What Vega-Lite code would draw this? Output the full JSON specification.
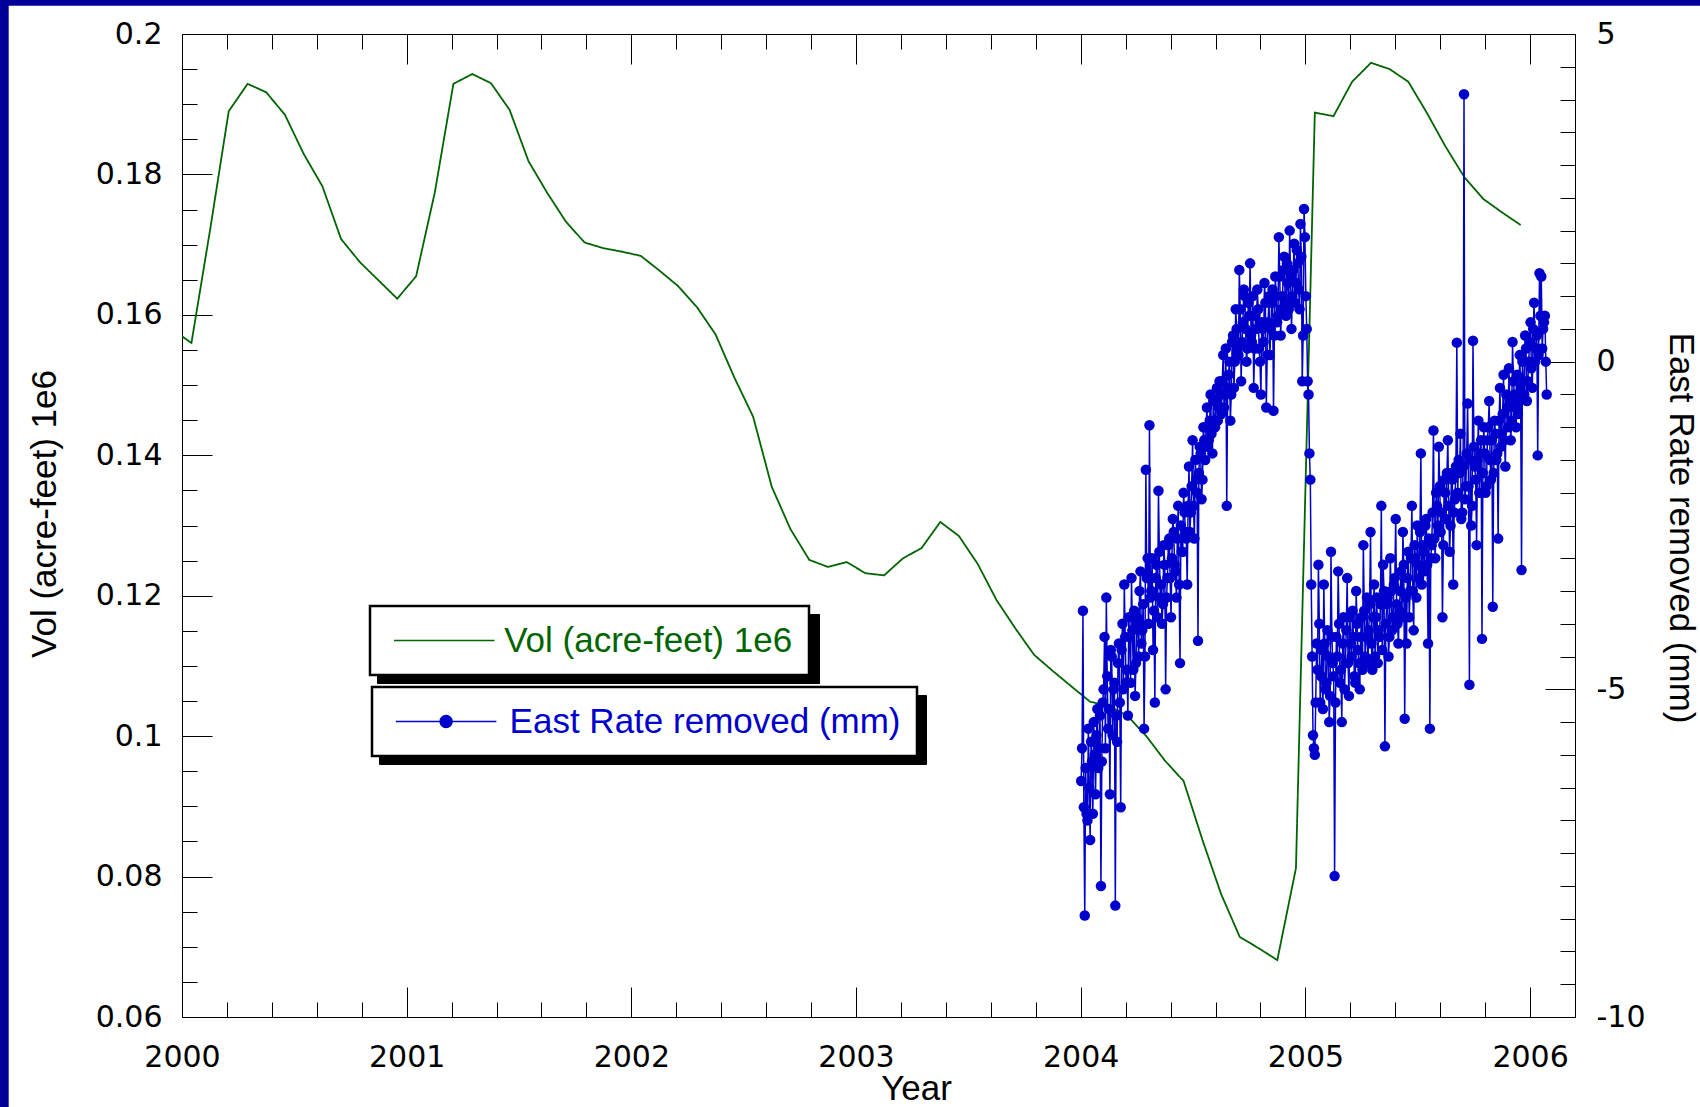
{
  "$schema": "https://vega.github.io/schema/vega-lite/v6.json",
  "width": 1393,
  "height": 983,
  "autosize": {"type": "none"},
  "padding": {"left": 182, "top": 34, "right": 125, "bottom": 90},
  "background": "white",
  "config": {
    "view": {"stroke": null},
    "axis": {
      "domainColor": "#000000",
      "domainWidth": 1,
      "tickColor": "#000000",
      "tickWidth": 1,
      "grid": false,
      "labelFont": "DejaVu Sans",
      "labelFontSize": 30,
      "labelColor": "#000000",
      "labelFlush": false,
      "labelOverlap": false,
      "labelBound": false,
      "titleFont": "Liberation Sans",
      "titleFontSize": 35,
      "titleFontWeight": "normal",
      "titleColor": "#000000",
      "zindex": 1
    },
    "legend": {
      "labelFont": "Liberation Sans",
      "labelFontSize": 35,
      "labelLimit": 900,
      "symbolSize": 1225,
      "symbolStrokeWidth": 1.5,
      "padding": 16
    }
  },
  "datasets": {
    "volume": [
      {"t": 1999.958, "vol": 0.1579}, {"t": 2000.042, "vol": 0.1560}, {"t": 2000.125, "vol": 0.1721},
      {"t": 2000.208, "vol": 0.1890}, {"t": 2000.292, "vol": 0.1929}, {"t": 2000.375, "vol": 0.1917},
      {"t": 2000.458, "vol": 0.1885}, {"t": 2000.542, "vol": 0.1829}, {"t": 2000.625, "vol": 0.1783},
      {"t": 2000.708, "vol": 0.1708}, {"t": 2000.792, "vol": 0.1675}, {"t": 2000.875, "vol": 0.1649},
      {"t": 2000.958, "vol": 0.1623}, {"t": 2001.042, "vol": 0.1655}, {"t": 2001.125, "vol": 0.1774},
      {"t": 2001.208, "vol": 0.1929}, {"t": 2001.292, "vol": 0.1943}, {"t": 2001.375, "vol": 0.1930},
      {"t": 2001.458, "vol": 0.1892}, {"t": 2001.542, "vol": 0.1819}, {"t": 2001.625, "vol": 0.1774},
      {"t": 2001.708, "vol": 0.1733}, {"t": 2001.792, "vol": 0.1703}, {"t": 2001.875, "vol": 0.1695},
      {"t": 2001.958, "vol": 0.1690}, {"t": 2002.042, "vol": 0.1684}, {"t": 2002.125, "vol": 0.1663},
      {"t": 2002.208, "vol": 0.1641}, {"t": 2002.292, "vol": 0.1611}, {"t": 2002.375, "vol": 0.1572},
      {"t": 2002.458, "vol": 0.1511}, {"t": 2002.542, "vol": 0.1455}, {"t": 2002.625, "vol": 0.1355},
      {"t": 2002.708, "vol": 0.1295}, {"t": 2002.792, "vol": 0.1251}, {"t": 2002.875, "vol": 0.1241},
      {"t": 2002.958, "vol": 0.1248}, {"t": 2003.042, "vol": 0.1232}, {"t": 2003.125, "vol": 0.1229},
      {"t": 2003.208, "vol": 0.1253}, {"t": 2003.292, "vol": 0.1268}, {"t": 2003.375, "vol": 0.1305},
      {"t": 2003.458, "vol": 0.1285}, {"t": 2003.542, "vol": 0.1245}, {"t": 2003.625, "vol": 0.1194},
      {"t": 2003.708, "vol": 0.1154}, {"t": 2003.792, "vol": 0.1116}, {"t": 2003.875, "vol": 0.1093},
      {"t": 2003.958, "vol": 0.1071}, {"t": 2004.042, "vol": 0.1049}, {"t": 2004.125, "vol": 0.1043},
      {"t": 2004.208, "vol": 0.1029}, {"t": 2004.292, "vol": 0.1000}, {"t": 2004.375, "vol": 0.0965},
      {"t": 2004.458, "vol": 0.0936}, {"t": 2004.542, "vol": 0.0852}, {"t": 2004.625, "vol": 0.0775},
      {"t": 2004.708, "vol": 0.0714}, {"t": 2004.792, "vol": 0.0698}, {"t": 2004.875, "vol": 0.0681},
      {"t": 2004.958, "vol": 0.0812}, {"t": 2005.042, "vol": 0.1888}, {"t": 2005.125, "vol": 0.1883},
      {"t": 2005.208, "vol": 0.1932}, {"t": 2005.292, "vol": 0.1959}, {"t": 2005.375, "vol": 0.1950},
      {"t": 2005.458, "vol": 0.1932}, {"t": 2005.542, "vol": 0.1887}, {"t": 2005.625, "vol": 0.1839},
      {"t": 2005.708, "vol": 0.1796}, {"t": 2005.792, "vol": 0.1765}, {"t": 2005.875, "vol": 0.1746},
      {"t": 2005.958, "vol": 0.1728}
    ],
    "east": [
      {"t": 2004.002, "v": -6.4}, {"t": 2004.010, "v": -3.8}, {"t": 2004.018, "v": -8.45}, {"t": 2004.026, "v": -6.9},
      {"t": 2004.034, "v": -5.6}, {"t": 2004.042, "v": -7.3}, {"t": 2004.050, "v": -6.1}, {"t": 2004.058, "v": -5.5},
      {"t": 2004.066, "v": -6.6}, {"t": 2004.074, "v": -5.3}, {"t": 2004.082, "v": -5.9}, {"t": 2004.090, "v": -8.0},
      {"t": 2004.098, "v": -5.2}, {"t": 2004.106, "v": -4.2}, {"t": 2004.114, "v": -3.6}, {"t": 2004.122, "v": -5.6},
      {"t": 2004.130, "v": -6.6}, {"t": 2004.138, "v": -4.5}, {"t": 2004.146, "v": -5.0}, {"t": 2004.154, "v": -8.3},
      {"t": 2004.162, "v": -5.8}, {"t": 2004.170, "v": -4.3}, {"t": 2004.178, "v": -6.8}, {"t": 2004.186, "v": -4.0},
      {"t": 2004.194, "v": -3.4}, {"t": 2004.202, "v": -4.9}, {"t": 2004.210, "v": -5.4}, {"t": 2004.218, "v": -4.2},
      {"t": 2004.226, "v": -3.3}, {"t": 2004.234, "v": -4.7}, {"t": 2004.242, "v": -5.1}, {"t": 2004.250, "v": -3.9},
      {"t": 2004.258, "v": -4.5}, {"t": 2004.266, "v": -3.2}, {"t": 2004.274, "v": -4.1}, {"t": 2004.282, "v": -5.6},
      {"t": 2004.290, "v": -1.65}, {"t": 2004.298, "v": -3.0}, {"t": 2004.306, "v": -0.97}, {"t": 2004.314, "v": -3.5},
      {"t": 2004.322, "v": -4.4}, {"t": 2004.330, "v": -5.2}, {"t": 2004.338, "v": -3.1}, {"t": 2004.346, "v": -1.97},
      {"t": 2004.354, "v": -3.6}, {"t": 2004.362, "v": -4.0}, {"t": 2004.370, "v": -2.8}, {"t": 2004.378, "v": -5.0},
      {"t": 2004.386, "v": -3.3}, {"t": 2004.394, "v": -2.7}, {"t": 2004.402, "v": -3.9}, {"t": 2004.410, "v": -2.4},
      {"t": 2004.418, "v": -3.1}, {"t": 2004.426, "v": -3.6}, {"t": 2004.434, "v": -2.2}, {"t": 2004.442, "v": -4.6},
      {"t": 2004.450, "v": -2.9}, {"t": 2004.458, "v": -2.0}, {"t": 2004.466, "v": -2.6}, {"t": 2004.474, "v": -3.4},
      {"t": 2004.482, "v": -1.6}, {"t": 2004.490, "v": -2.3}, {"t": 2004.498, "v": -1.2}, {"t": 2004.506, "v": -2.7},
      {"t": 2004.514, "v": -1.8}, {"t": 2004.522, "v": -4.26}, {"t": 2004.530, "v": -1.3}, {"t": 2004.538, "v": -2.1},
      {"t": 2004.546, "v": -1.0}, {"t": 2004.554, "v": -1.5}, {"t": 2004.562, "v": -0.7}, {"t": 2004.570, "v": -1.2},
      {"t": 2004.578, "v": -0.5}, {"t": 2004.586, "v": -1.4}, {"t": 2004.594, "v": -0.9}, {"t": 2004.602, "v": -0.6},
      {"t": 2004.610, "v": -0.9}, {"t": 2004.618, "v": -0.3}, {"t": 2004.626, "v": -0.8}, {"t": 2004.634, "v": 0.1},
      {"t": 2004.642, "v": -0.5}, {"t": 2004.650, "v": -2.2}, {"t": 2004.658, "v": -0.2}, {"t": 2004.666, "v": -0.9},
      {"t": 2004.674, "v": 0.3}, {"t": 2004.682, "v": -0.4}, {"t": 2004.690, "v": 0.8}, {"t": 2004.698, "v": 0.2},
      {"t": 2004.706, "v": 1.4}, {"t": 2004.714, "v": -0.3}, {"t": 2004.722, "v": 0.6}, {"t": 2004.730, "v": 1.0},
      {"t": 2004.738, "v": 0.0}, {"t": 2004.746, "v": 0.9}, {"t": 2004.754, "v": 1.5}, {"t": 2004.762, "v": 0.3},
      {"t": 2004.770, "v": -0.4}, {"t": 2004.778, "v": 0.7}, {"t": 2004.786, "v": 1.1}, {"t": 2004.794, "v": 0.2},
      {"t": 2004.802, "v": -0.5}, {"t": 2004.810, "v": 0.5}, {"t": 2004.818, "v": 1.2}, {"t": 2004.826, "v": -0.7},
      {"t": 2004.834, "v": 0.6}, {"t": 2004.842, "v": 0.1}, {"t": 2004.850, "v": 0.9}, {"t": 2004.858, "v": -0.75},
      {"t": 2004.866, "v": 1.3}, {"t": 2004.874, "v": 0.6}, {"t": 2004.882, "v": 1.9}, {"t": 2004.890, "v": 0.4},
      {"t": 2004.898, "v": 1.0}, {"t": 2004.906, "v": 1.6}, {"t": 2004.914, "v": 0.7}, {"t": 2004.922, "v": 1.2},
      {"t": 2004.930, "v": 2.0}, {"t": 2004.938, "v": 0.5}, {"t": 2004.946, "v": 1.4}, {"t": 2004.954, "v": 0.9},
      {"t": 2004.962, "v": 1.7}, {"t": 2004.970, "v": 1.1}, {"t": 2004.978, "v": 2.1}, {"t": 2004.986, "v": -0.3},
      {"t": 2004.994, "v": 2.33}, {"t": 2005.002, "v": 1.0}, {"t": 2005.010, "v": -0.3}, {"t": 2005.018, "v": -1.4},
      {"t": 2005.026, "v": -3.4}, {"t": 2005.034, "v": -5.7}, {"t": 2005.042, "v": -6.0}, {"t": 2005.050, "v": -4.3},
      {"t": 2005.058, "v": -3.1}, {"t": 2005.066, "v": -5.2}, {"t": 2005.074, "v": -4.4}, {"t": 2005.082, "v": -3.4},
      {"t": 2005.090, "v": -5.0}, {"t": 2005.098, "v": -4.1}, {"t": 2005.106, "v": -5.5}, {"t": 2005.114, "v": -2.9},
      {"t": 2005.122, "v": -4.6}, {"t": 2005.130, "v": -7.85}, {"t": 2005.138, "v": -4.2}, {"t": 2005.146, "v": -3.2},
      {"t": 2005.154, "v": -4.9}, {"t": 2005.162, "v": -5.5}, {"t": 2005.170, "v": -3.9}, {"t": 2005.178, "v": -4.6},
      {"t": 2005.186, "v": -3.3}, {"t": 2005.194, "v": -5.1}, {"t": 2005.202, "v": -4.3}, {"t": 2005.210, "v": -3.8},
      {"t": 2005.218, "v": -4.8}, {"t": 2005.226, "v": -3.5}, {"t": 2005.234, "v": -4.4}, {"t": 2005.242, "v": -5.0},
      {"t": 2005.250, "v": -3.9}, {"t": 2005.258, "v": -2.8}, {"t": 2005.266, "v": -4.5}, {"t": 2005.274, "v": -3.6},
      {"t": 2005.282, "v": -4.1}, {"t": 2005.290, "v": -2.6}, {"t": 2005.298, "v": -4.7}, {"t": 2005.306, "v": -3.4},
      {"t": 2005.314, "v": -3.9}, {"t": 2005.322, "v": -4.6}, {"t": 2005.330, "v": -4.2}, {"t": 2005.338, "v": -2.2},
      {"t": 2005.346, "v": -3.1}, {"t": 2005.354, "v": -5.87}, {"t": 2005.362, "v": -3.7}, {"t": 2005.370, "v": -4.5},
      {"t": 2005.378, "v": -3.0}, {"t": 2005.386, "v": -4.1}, {"t": 2005.394, "v": -3.4}, {"t": 2005.402, "v": -2.4},
      {"t": 2005.410, "v": -4.0}, {"t": 2005.418, "v": -3.8}, {"t": 2005.426, "v": -3.2}, {"t": 2005.434, "v": -2.6},
      {"t": 2005.442, "v": -5.45}, {"t": 2005.450, "v": -4.3}, {"t": 2005.458, "v": -2.9}, {"t": 2005.466, "v": -3.5},
      {"t": 2005.474, "v": -2.2}, {"t": 2005.482, "v": -4.1}, {"t": 2005.490, "v": -3.0}, {"t": 2005.498, "v": -2.5},
      {"t": 2005.506, "v": -3.3}, {"t": 2005.514, "v": -1.4}, {"t": 2005.522, "v": -2.8}, {"t": 2005.530, "v": -3.2},
      {"t": 2005.538, "v": -2.4}, {"t": 2005.546, "v": -4.3}, {"t": 2005.554, "v": -5.6}, {"t": 2005.562, "v": -2.8},
      {"t": 2005.570, "v": -1.05}, {"t": 2005.578, "v": -3.0}, {"t": 2005.586, "v": -2.2}, {"t": 2005.594, "v": -1.3},
      {"t": 2005.602, "v": -2.6}, {"t": 2005.610, "v": -3.9}, {"t": 2005.618, "v": -1.8}, {"t": 2005.626, "v": -2.4},
      {"t": 2005.634, "v": -1.2}, {"t": 2005.642, "v": -2.9}, {"t": 2005.650, "v": -1.7}, {"t": 2005.658, "v": -3.4},
      {"t": 2005.666, "v": -2.1}, {"t": 2005.674, "v": 0.29}, {"t": 2005.682, "v": -1.5}, {"t": 2005.690, "v": -1.1},
      {"t": 2005.698, "v": -2.3}, {"t": 2005.706, "v": 4.08}, {"t": 2005.714, "v": -1.9}, {"t": 2005.722, "v": -0.64},
      {"t": 2005.730, "v": -4.93}, {"t": 2005.738, "v": -2.5}, {"t": 2005.746, "v": 0.32}, {"t": 2005.754, "v": -1.6},
      {"t": 2005.762, "v": -2.8}, {"t": 2005.770, "v": -0.9}, {"t": 2005.778, "v": -1.4}, {"t": 2005.786, "v": -4.23},
      {"t": 2005.794, "v": -1.0}, {"t": 2005.802, "v": -2.0}, {"t": 2005.810, "v": -1.2}, {"t": 2005.818, "v": -0.6},
      {"t": 2005.826, "v": -1.8}, {"t": 2005.834, "v": -3.74}, {"t": 2005.842, "v": -0.9}, {"t": 2005.850, "v": -1.5},
      {"t": 2005.858, "v": -2.7}, {"t": 2005.866, "v": -0.4}, {"t": 2005.874, "v": -1.1}, {"t": 2005.882, "v": -0.2},
      {"t": 2005.890, "v": -1.6}, {"t": 2005.898, "v": -0.7}, {"t": 2005.906, "v": -0.1}, {"t": 2005.914, "v": -1.2},
      {"t": 2005.922, "v": 0.3}, {"t": 2005.930, "v": -0.5}, {"t": 2005.938, "v": -1.0}, {"t": 2005.946, "v": -0.8},
      {"t": 2005.954, "v": 0.1}, {"t": 2005.962, "v": -3.18}, {"t": 2005.970, "v": -0.3}, {"t": 2005.978, "v": 0.4},
      {"t": 2005.986, "v": -0.6}, {"t": 2005.994, "v": 0.0}, {"t": 2006.002, "v": 0.6}, {"t": 2006.010, "v": -0.4},
      {"t": 2006.018, "v": 0.9}, {"t": 2006.026, "v": 0.2}, {"t": 2006.034, "v": -1.43}, {"t": 2006.042, "v": 1.35},
      {"t": 2006.050, "v": 1.3}, {"t": 2006.058, "v": 0.5}, {"t": 2006.066, "v": 0.7}, {"t": 2006.074, "v": -0.5},
      {"t": 2004.006, "v": -5.9}, {"t": 2004.014, "v": -6.8}, {"t": 2004.022, "v": -6.2}, {"t": 2004.030, "v": -7.0},
      {"t": 2004.038, "v": -6.5}, {"t": 2004.046, "v": -5.8}, {"t": 2004.054, "v": -6.9}, {"t": 2004.062, "v": -6.0},
      {"t": 2004.070, "v": -5.7}, {"t": 2004.078, "v": -6.2}, {"t": 2004.086, "v": -5.4}, {"t": 2004.094, "v": -6.1},
      {"t": 2004.102, "v": -5.0}, {"t": 2004.110, "v": -5.9}, {"t": 2004.118, "v": -4.8}, {"t": 2004.126, "v": -5.3},
      {"t": 2004.134, "v": -4.4}, {"t": 2004.142, "v": -5.7}, {"t": 2004.150, "v": -4.9}, {"t": 2004.158, "v": -5.4},
      {"t": 2004.166, "v": -4.6}, {"t": 2004.174, "v": -5.2}, {"t": 2004.182, "v": -4.4}, {"t": 2004.190, "v": -5.0},
      {"t": 2004.198, "v": -4.2}, {"t": 2004.206, "v": -4.7}, {"t": 2004.214, "v": -3.9}, {"t": 2004.222, "v": -4.9},
      {"t": 2004.230, "v": -4.1}, {"t": 2004.238, "v": -3.8}, {"t": 2004.246, "v": -4.6}, {"t": 2004.254, "v": -4.0},
      {"t": 2004.262, "v": -3.5}, {"t": 2004.270, "v": -4.3}, {"t": 2004.278, "v": -3.7}, {"t": 2004.286, "v": -4.5},
      {"t": 2004.294, "v": -3.3}, {"t": 2004.302, "v": -4.0}, {"t": 2004.310, "v": -3.6}, {"t": 2004.318, "v": -3.0},
      {"t": 2004.326, "v": -3.8}, {"t": 2004.334, "v": -3.3}, {"t": 2004.342, "v": -3.9}, {"t": 2004.350, "v": -2.9},
      {"t": 2004.358, "v": -3.4}, {"t": 2004.366, "v": -3.7}, {"t": 2004.374, "v": -3.1}, {"t": 2004.382, "v": -3.6},
      {"t": 2004.390, "v": -2.8}, {"t": 2004.398, "v": -3.3}, {"t": 2004.406, "v": -3.0}, {"t": 2004.414, "v": -2.6},
      {"t": 2004.422, "v": -3.2}, {"t": 2004.430, "v": -2.7}, {"t": 2004.438, "v": -3.4}, {"t": 2004.446, "v": -2.5},
      {"t": 2004.454, "v": -2.9}, {"t": 2004.462, "v": -2.3}, {"t": 2004.470, "v": -2.7}, {"t": 2004.478, "v": -2.2},
      {"t": 2004.486, "v": -2.6}, {"t": 2004.494, "v": -1.9}, {"t": 2004.502, "v": -2.2}, {"t": 2004.510, "v": -1.5},
      {"t": 2004.518, "v": -2.0}, {"t": 2004.526, "v": -1.7}, {"t": 2004.534, "v": -1.4}, {"t": 2004.542, "v": -1.8},
      {"t": 2004.550, "v": -1.2}, {"t": 2004.558, "v": -1.0}, {"t": 2004.566, "v": -1.3}, {"t": 2004.574, "v": -0.9},
      {"t": 2004.582, "v": -1.1}, {"t": 2004.590, "v": -0.6}, {"t": 2004.598, "v": -1.0}, {"t": 2004.606, "v": -0.4},
      {"t": 2004.614, "v": -0.7}, {"t": 2004.622, "v": -0.5}, {"t": 2004.630, "v": -0.3}, {"t": 2004.638, "v": -0.7},
      {"t": 2004.646, "v": 0.2}, {"t": 2004.654, "v": -0.4}, {"t": 2004.662, "v": 0.0}, {"t": 2004.670, "v": -0.5},
      {"t": 2004.678, "v": 0.4}, {"t": 2004.686, "v": 0.0}, {"t": 2004.694, "v": 0.5}, {"t": 2004.702, "v": 0.1},
      {"t": 2004.710, "v": 0.8}, {"t": 2004.718, "v": 0.3}, {"t": 2004.726, "v": 1.1}, {"t": 2004.734, "v": 0.5},
      {"t": 2004.742, "v": 0.2}, {"t": 2004.750, "v": 0.7}, {"t": 2004.758, "v": 0.4}, {"t": 2004.766, "v": 1.0},
      {"t": 2004.774, "v": 0.2}, {"t": 2004.782, "v": 0.5}, {"t": 2004.790, "v": 0.8}, {"t": 2004.798, "v": 0.0},
      {"t": 2004.806, "v": 0.6}, {"t": 2004.814, "v": 0.3}, {"t": 2004.822, "v": 0.9}, {"t": 2004.830, "v": 0.1},
      {"t": 2004.838, "v": 1.0}, {"t": 2004.846, "v": 0.5}, {"t": 2004.854, "v": 1.1}, {"t": 2004.862, "v": 0.4},
      {"t": 2004.870, "v": 1.0}, {"t": 2004.878, "v": 0.7}, {"t": 2004.886, "v": 1.3}, {"t": 2004.894, "v": 0.8},
      {"t": 2004.902, "v": 1.4}, {"t": 2004.910, "v": 0.9}, {"t": 2004.918, "v": 1.5}, {"t": 2004.926, "v": 0.8},
      {"t": 2004.934, "v": 1.3}, {"t": 2004.942, "v": 1.0}, {"t": 2004.950, "v": 1.8}, {"t": 2004.958, "v": 1.2},
      {"t": 2004.966, "v": 1.5}, {"t": 2004.974, "v": 0.8}, {"t": 2004.982, "v": 1.6}, {"t": 2004.990, "v": 0.4},
      {"t": 2004.998, "v": 1.9}, {"t": 2005.006, "v": 0.5}, {"t": 2005.014, "v": -0.5}, {"t": 2005.022, "v": -1.8},
      {"t": 2005.030, "v": -4.5}, {"t": 2005.038, "v": -5.9}, {"t": 2005.046, "v": -5.2}, {"t": 2005.054, "v": -4.7},
      {"t": 2005.062, "v": -4.0}, {"t": 2005.070, "v": -4.8}, {"t": 2005.078, "v": -5.3}, {"t": 2005.086, "v": -4.3},
      {"t": 2005.094, "v": -4.9}, {"t": 2005.102, "v": -4.5}, {"t": 2005.110, "v": -5.1}, {"t": 2005.118, "v": -4.2},
      {"t": 2005.126, "v": -4.8}, {"t": 2005.134, "v": -5.2}, {"t": 2005.142, "v": -4.5}, {"t": 2005.150, "v": -4.0},
      {"t": 2005.158, "v": -4.7}, {"t": 2005.166, "v": -4.3}, {"t": 2005.174, "v": -5.0}, {"t": 2005.182, "v": -4.1},
      {"t": 2005.190, "v": -4.6}, {"t": 2005.198, "v": -3.9}, {"t": 2005.206, "v": -4.5}, {"t": 2005.214, "v": -4.2},
      {"t": 2005.222, "v": -4.9}, {"t": 2005.230, "v": -4.0}, {"t": 2005.238, "v": -4.6}, {"t": 2005.246, "v": -4.2},
      {"t": 2005.254, "v": -4.7}, {"t": 2005.262, "v": -3.8}, {"t": 2005.270, "v": -4.2}, {"t": 2005.278, "v": -4.6},
      {"t": 2005.286, "v": -3.7}, {"t": 2005.294, "v": -4.3}, {"t": 2005.302, "v": -3.9}, {"t": 2005.310, "v": -4.5},
      {"t": 2005.318, "v": -3.6}, {"t": 2005.326, "v": -4.1}, {"t": 2005.334, "v": -3.7}, {"t": 2005.342, "v": -4.4},
      {"t": 2005.350, "v": -3.5}, {"t": 2005.358, "v": -4.0}, {"t": 2005.366, "v": -3.6}, {"t": 2005.374, "v": -4.2},
      {"t": 2005.382, "v": -3.5}, {"t": 2005.390, "v": -3.9}, {"t": 2005.398, "v": -3.3}, {"t": 2005.406, "v": -3.7},
      {"t": 2005.414, "v": -4.3}, {"t": 2005.422, "v": -3.5}, {"t": 2005.430, "v": -3.9}, {"t": 2005.438, "v": -3.1},
      {"t": 2005.446, "v": -3.6}, {"t": 2005.454, "v": -3.3}, {"t": 2005.462, "v": -3.9}, {"t": 2005.470, "v": -3.0},
      {"t": 2005.478, "v": -3.5}, {"t": 2005.486, "v": -2.8}, {"t": 2005.494, "v": -3.6}, {"t": 2005.502, "v": -3.1},
      {"t": 2005.510, "v": -2.6}, {"t": 2005.518, "v": -3.4}, {"t": 2005.526, "v": -2.9}, {"t": 2005.534, "v": -2.5},
      {"t": 2005.542, "v": -3.1}, {"t": 2005.550, "v": -2.7}, {"t": 2005.558, "v": -3.0}, {"t": 2005.566, "v": -2.3},
      {"t": 2005.574, "v": -2.7}, {"t": 2005.582, "v": -2.0}, {"t": 2005.590, "v": -2.5}, {"t": 2005.598, "v": -1.9},
      {"t": 2005.606, "v": -2.3}, {"t": 2005.614, "v": -2.8}, {"t": 2005.622, "v": -2.0}, {"t": 2005.630, "v": -1.7},
      {"t": 2005.638, "v": -2.2}, {"t": 2005.646, "v": -2.5}, {"t": 2005.654, "v": -1.8}, {"t": 2005.662, "v": -2.3},
      {"t": 2005.670, "v": -1.6}, {"t": 2005.678, "v": -2.0}, {"t": 2005.686, "v": -1.7}, {"t": 2005.694, "v": -2.4},
      {"t": 2005.702, "v": -1.6}, {"t": 2005.710, "v": -2.1}, {"t": 2005.718, "v": -1.4}, {"t": 2005.726, "v": -1.9},
      {"t": 2005.734, "v": -1.5}, {"t": 2005.742, "v": -2.2}, {"t": 2005.750, "v": -1.3}, {"t": 2005.758, "v": -1.8},
      {"t": 2005.766, "v": -1.5}, {"t": 2005.774, "v": -2.0}, {"t": 2005.782, "v": -1.2}, {"t": 2005.790, "v": -1.7},
      {"t": 2005.798, "v": -1.4}, {"t": 2005.806, "v": -1.9}, {"t": 2005.814, "v": -1.0}, {"t": 2005.822, "v": -1.5},
      {"t": 2005.830, "v": -1.2}, {"t": 2005.838, "v": -1.7}, {"t": 2005.846, "v": -1.1}, {"t": 2005.854, "v": -1.4},
      {"t": 2005.862, "v": -0.9}, {"t": 2005.870, "v": -1.3}, {"t": 2005.878, "v": -0.8}, {"t": 2005.886, "v": -1.2},
      {"t": 2005.894, "v": -0.5}, {"t": 2005.902, "v": -1.0}, {"t": 2005.910, "v": -0.6}, {"t": 2005.918, "v": -0.9},
      {"t": 2005.926, "v": -0.3}, {"t": 2005.934, "v": -0.7}, {"t": 2005.942, "v": -0.2}, {"t": 2005.950, "v": -0.6},
      {"t": 2005.958, "v": -0.4}, {"t": 2005.966, "v": 0.0}, {"t": 2005.974, "v": -0.5}, {"t": 2005.982, "v": 0.2},
      {"t": 2005.990, "v": -0.3}, {"t": 2005.998, "v": 0.3}, {"t": 2006.006, "v": -0.1}, {"t": 2006.014, "v": 0.5},
      {"t": 2006.022, "v": 0.0}, {"t": 2006.030, "v": 0.4}, {"t": 2006.038, "v": 0.1}, {"t": 2006.046, "v": 0.7},
      {"t": 2006.054, "v": 0.2}, {"t": 2006.062, "v": 0.6}, {"t": 2006.070, "v": 0.0}
    ]
  },
  "layer": [
    {
      "description": "top band of the page frame",
      "data": {"values": [{}]},
      "mark": {"type": "rect", "color": "#000099"},
      "encoding": {
        "x": {"datum": 1999, "type": "quantitative", "scale": {"domain": [2000, 2006.2], "nice": false, "zero": false}, "axis": null},
        "x2": {"datum": 2007},
        "y": {"datum": 6, "type": "quantitative", "scale": {"domain": [-10, 5], "nice": false, "zero": false}, "axis": null},
        "y2": {"datum": 5.432}
      }
    },
    {
      "description": "left band of the page frame",
      "data": {"values": [{}]},
      "mark": {"type": "rect", "color": "#000099"},
      "encoding": {
        "x": {"datum": 1999, "type": "quantitative", "scale": {"domain": [2000, 2006.2], "nice": false, "zero": false}, "axis": null},
        "x2": {"datum": 1999.2287},
        "y": {"datum": 6, "type": "quantitative", "scale": {"domain": [-10, 5], "nice": false, "zero": false}, "axis": null},
        "y2": {"datum": -12}
      }
    },
    {
      "data": {"name": "volume"},
      "mark": {"type": "line", "strokeWidth": 1.8, "clip": true},
      "encoding": {
        "x": {
          "field": "t", "type": "quantitative",
          "scale": {"domain": [2000, 2006.2], "nice": false, "zero": false},
          "axis": {
            "orient": "bottom",
            "values": [2000, 2000.2, 2000.4, 2000.6, 2000.8, 2001, 2001.2, 2001.4, 2001.6, 2001.8, 2002, 2002.2, 2002.4, 2002.6, 2002.8, 2003, 2003.2, 2003.4, 2003.6, 2003.8, 2004, 2004.2, 2004.4, 2004.6, 2004.8, 2005, 2005.2, 2005.4, 2005.6, 2005.8, 2006, 2006.2],
            "tickSize": {"condition": {"test": "abs(datum.value - round(datum.value)) < 0.01", "value": -30}, "value": -15},
            "labelExpr": "abs(datum.value - round(datum.value)) < 0.01 ? '' + datum.value : ''",
            "labelPadding": 55,
            "title": "Year",
            "titleX": 734,
            "titleY": 82,
            "titleAlign": "center",
            "titleBaseline": "alphabetic"
          }
        },
        "y": {
          "field": "vol", "type": "quantitative",
          "scale": {"domain": [0.06, 0.2], "nice": false, "zero": false},
          "axis": {
            "orient": "left",
            "values": [0.06, 0.065, 0.07, 0.075, 0.08, 0.085, 0.09, 0.095, 0.1, 0.105, 0.11, 0.115, 0.12, 0.125, 0.13, 0.135, 0.14, 0.145, 0.15, 0.155, 0.16, 0.165, 0.17, 0.175, 0.18, 0.185, 0.19, 0.195, 0.2],
            "tickSize": {"condition": {"test": "abs(datum.value * 50 - round(datum.value * 50)) < 0.01", "value": -30}, "value": -15},
            "labelExpr": "abs(datum.value * 50 - round(datum.value * 50)) < 0.01 ? '' + datum.value : ''",
            "labelPadding": 50,
            "title": "Vol (acre-feet) 1e6",
            "titleAngle": -90,
            "titleX": -126.5,
            "titleY": 479.5,
            "titleAlign": "center",
            "titleBaseline": "alphabetic"
          }
        },
        "stroke": {
          "datum": "Vol (acre-feet) 1e6",
          "scale": {"domain": ["Vol (acre-feet) 1e6"], "range": ["#006400"]},
          "legend": {
            "title": null,
            "orient": "none",
            "legendX": 188,
            "legendY": 572,
            "symbolType": "M-2.874,0H2.874",
            "symbolOffset": 39.7,
            "labelOffset": 41.5,
            "labelColor": "#006400",
            "symbolStrokeColor": "#006400",
            "symbolFillColor": "transparent",
            "fillColor": "white",
            "strokeColor": "black",
            "zindex": 2,
            "encode": {"legend": {"update": {"strokeWidth": {"value": 2.5}}}}
          }
        },
        "strokeDash": {
          "datum": "volume shadow",
          "scale": {"domain": ["volume shadow"], "range": [[1, 0]]},
          "legend": {
            "title": null,
            "orient": "none",
            "legendX": 195,
            "legendY": 580,
            "labelExpr": "''",
            "symbolType": "M-2.874,0H19.93",
            "symbolOffset": 39.7,
            "labelOffset": 41.5,
            "symbolStrokeColor": "black",
            "fillColor": "black",
            "strokeColor": "black",
            "zindex": 1
          }
        }
      }
    },
    {
      "data": {"name": "east"},
      "mark": {"type": "line", "strokeWidth": 1.5},
      "encoding": {
        "x": {
          "field": "t", "type": "quantitative",
          "scale": {"domain": [2000, 2006.2], "nice": false, "zero": false},
          "axis": {
            "orient": "top",
            "values": [2000, 2000.2, 2000.4, 2000.6, 2000.8, 2001, 2001.2, 2001.4, 2001.6, 2001.8, 2002, 2002.2, 2002.4, 2002.6, 2002.8, 2003, 2003.2, 2003.4, 2003.6, 2003.8, 2004, 2004.2, 2004.4, 2004.6, 2004.8, 2005, 2005.2, 2005.4, 2005.6, 2005.8, 2006, 2006.2],
            "tickSize": {"condition": {"test": "abs(datum.value - round(datum.value)) < 0.01", "value": -30}, "value": -15},
            "labels": false,
            "title": null
          }
        },
        "y": {
          "field": "v", "type": "quantitative",
          "scale": {"domain": [-10, 5], "nice": false, "zero": false},
          "axis": {
            "orient": "right",
            "values": [-10, -9.5, -9, -8.5, -8, -7.5, -7, -6.5, -6, -5.5, -5, -4.5, -4, -3.5, -3, -2.5, -2, -1.5, -1, -0.5, 0, 0.5, 1, 1.5, 2, 2.5, 3, 3.5, 4, 4.5, 5],
            "tickSize": {"condition": {"test": "abs(datum.value / 5 - round(datum.value / 5)) < 0.01", "value": -30}, "value": -15},
            "labelExpr": "abs(datum.value / 5 - round(datum.value / 5)) < 0.01 ? '' + datum.value : ''",
            "labelPadding": 51,
            "title": "East Rate removed (mm)",
            "titleAngle": 90,
            "titleX": 94,
            "titleY": 493.5,
            "titleAlign": "center",
            "titleBaseline": "alphabetic"
          }
        },
        "stroke": {
          "datum": "East Rate removed (mm)",
          "scale": {"domain": ["East Rate removed (mm)"], "range": ["#0000CC"]},
          "legend": {
            "title": null,
            "orient": "none",
            "legendX": 190,
            "legendY": 653,
            "symbolType": "M-2.874,0H2.874M-0.343,0A0.343,0.343,0,1,1,0.343,0A0.343,0.343,0,1,1,-0.343,0Z",
            "symbolOffset": 39.6,
            "labelOffset": 45,
            "labelColor": "#0000CC",
            "symbolStrokeColor": "#0000CC",
            "symbolFillColor": "#0000CC",
            "fillColor": "white",
            "strokeColor": "black",
            "zindex": 2,
            "encode": {
              "legend": {"update": {"strokeWidth": {"value": 2.5}}},
              "symbols": {"update": {"fill": {"value": "#0000CC"}}}
            }
          }
        },
        "strokeDash": {
          "datum": "rate shadow",
          "scale": {"domain": ["rate shadow"], "range": [[1, 0]]},
          "legend": {
            "title": null,
            "orient": "none",
            "legendX": 197,
            "legendY": 661,
            "labelExpr": "''",
            "symbolType": "M-2.874,0H25.91",
            "symbolOffset": 39.6,
            "labelOffset": 45,
            "symbolStrokeColor": "black",
            "fillColor": "black",
            "strokeColor": "black",
            "zindex": 1
          }
        }
      }
    },
    {
      "data": {"name": "east"},
      "mark": {"type": "circle", "size": 110, "color": "#0000CC", "opacity": 1},
      "encoding": {
        "x": {"field": "t", "type": "quantitative", "scale": {"domain": [2000, 2006.2], "nice": false, "zero": false}, "axis": null},
        "y": {"field": "v", "type": "quantitative", "scale": {"domain": [-10, 5], "nice": false, "zero": false}, "axis": null}
      }
    }
  ],
  "resolve": {
    "scale": {"y": "independent", "stroke": "independent", "strokeDash": "independent"},
    "axis": {"x": "independent", "y": "independent"}
  }
}
